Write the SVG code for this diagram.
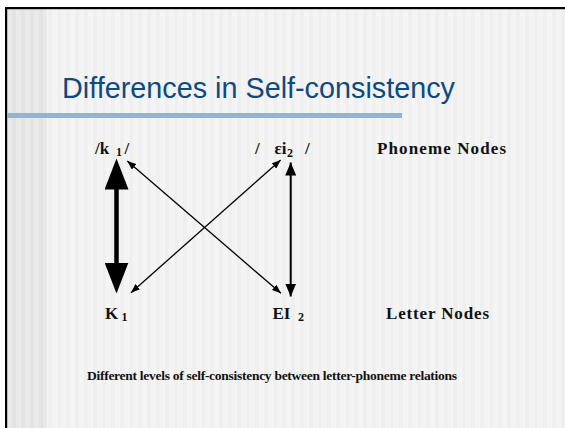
<svg xmlns="http://www.w3.org/2000/svg" width="565" height="428" viewBox="0 0 565 428">
  <style>
    .node { font-family: "Liberation Serif", "Times New Roman", serif; font-weight: bold; fill: #111111; }
    .title { font-family: "Liberation Sans", Arial, sans-serif; fill: #0f4a7f; }
    .conn { stroke: #000000; fill: none; }
  </style>
  <defs>
    <pattern id="stripeMain" x="7" y="0" width="9" height="10" patternUnits="userSpaceOnUse">
      <rect x="0" y="0" width="4.5" height="10" fill="#f4f4f4"/>
      <rect x="4.5" y="0" width="4.5" height="10" fill="#efefef"/>
    </pattern>
    <pattern id="stripeLeft" x="7" y="0" width="9" height="10" patternUnits="userSpaceOnUse">
      <rect x="0" y="0" width="4.5" height="10" fill="#e9e9e9"/>
      <rect x="4.5" y="0" width="4.5" height="10" fill="#e3e3e3"/>
    </pattern>
    <marker id="thickHead" markerUnits="userSpaceOnUse" markerWidth="32" markerHeight="24" refX="0.5" refY="12" orient="auto-start-reverse" viewBox="0 0 32 24">
      <path d="M0,0 L31,12 L0,24 Z" fill="#000000"/>
    </marker>
    <marker id="midHead" markerUnits="userSpaceOnUse" markerWidth="14" markerHeight="11" refX="13" refY="5.5" orient="auto-start-reverse" viewBox="0 0 14 11">
      <path d="M0,0 L13,5.5 L0,11 Z" fill="#000000"/>
    </marker>
    <marker id="thinHead" markerUnits="userSpaceOnUse" markerWidth="10" markerHeight="7" refX="9" refY="3.5" orient="auto-start-reverse" viewBox="0 0 10 7">
      <path d="M0,0 L9,3.5 L0,7 Z" fill="#000000"/>
    </marker>
  </defs>

  <!-- slide background -->
  <rect x="0" y="0" width="565" height="428" fill="#ffffff"/>
  <rect x="7" y="9" width="558" height="419" fill="url(#stripeMain)"/>
  <rect x="7" y="9" width="40" height="419" fill="url(#stripeLeft)"/>
  <rect x="5" y="7" width="560" height="2.2" fill="#000000"/>
  <rect x="5" y="7" width="2.2" height="421" fill="#000000"/>

  <!-- title -->
  <g id="title">
    <text class="title" x="62" y="98" font-size="29" textLength="393" lengthAdjust="spacingAndGlyphs">Differences in Self-consistency</text>
    <rect x="7" y="113" width="395" height="5" fill="#95b3cf"/>
  </g>

  <!-- connectors -->
  <g id="connectors">
    <line class="conn" x1="116.5" y1="189" x2="116.5" y2="263" stroke-width="4.5" marker-start="url(#thickHead)" marker-end="url(#thickHead)"/>
    <line class="conn" x1="290.7" y1="162.5" x2="290.7" y2="296.5" stroke-width="2" marker-start="url(#midHead)" marker-end="url(#midHead)"/>
    <line class="conn" x1="127.3" y1="161" x2="281" y2="293.3" stroke-width="1.3" marker-start="url(#thinHead)" marker-end="url(#thinHead)"/>
    <line class="conn" x1="131" y1="292.7" x2="280.7" y2="160" stroke-width="1.3" marker-start="url(#thinHead)" marker-end="url(#thinHead)"/>
  </g>

  <!-- phoneme nodes -->
  <g id="node-k1-phoneme">
    <text class="node" font-size="17"><tspan x="95" y="154">/k</tspan><tspan x="116" y="156" font-size="12">1</tspan><tspan x="124.5" y="154">/</tspan></text>
  </g>
  <g id="node-ei2-phoneme">
    <text class="node" font-size="17"><tspan x="255" y="153.5">/</tspan><tspan x="274.5" y="153.5">εi</tspan><tspan x="287" y="156.5" font-size="12">2</tspan><tspan x="305" y="153.5">/</tspan></text>
  </g>
  <g id="label-phoneme-nodes">
    <text class="node" x="377" y="154" font-size="17" textLength="129" lengthAdjust="spacing">Phoneme Nodes</text>
  </g>

  <!-- letter nodes -->
  <g id="node-k1-letter">
    <text class="node" font-size="17"><tspan x="105" y="318.5">K</tspan><tspan x="121.5" y="321" font-size="12">1</tspan></text>
  </g>
  <g id="node-ei2-letter">
    <text class="node" font-size="17"><tspan x="272.5" y="318.5">EI</tspan><tspan x="298" y="321" font-size="12">2</tspan></text>
  </g>
  <g id="label-letter-nodes">
    <text class="node" x="386" y="319" font-size="17" textLength="103" lengthAdjust="spacing">Letter  Nodes</text>
  </g>

  <!-- caption -->
  <g id="caption">
    <text class="node" x="87" y="380" font-size="13.5" textLength="370" lengthAdjust="spacing">Different levels of self-consistency between letter-phoneme relations</text>
  </g>
</svg>
